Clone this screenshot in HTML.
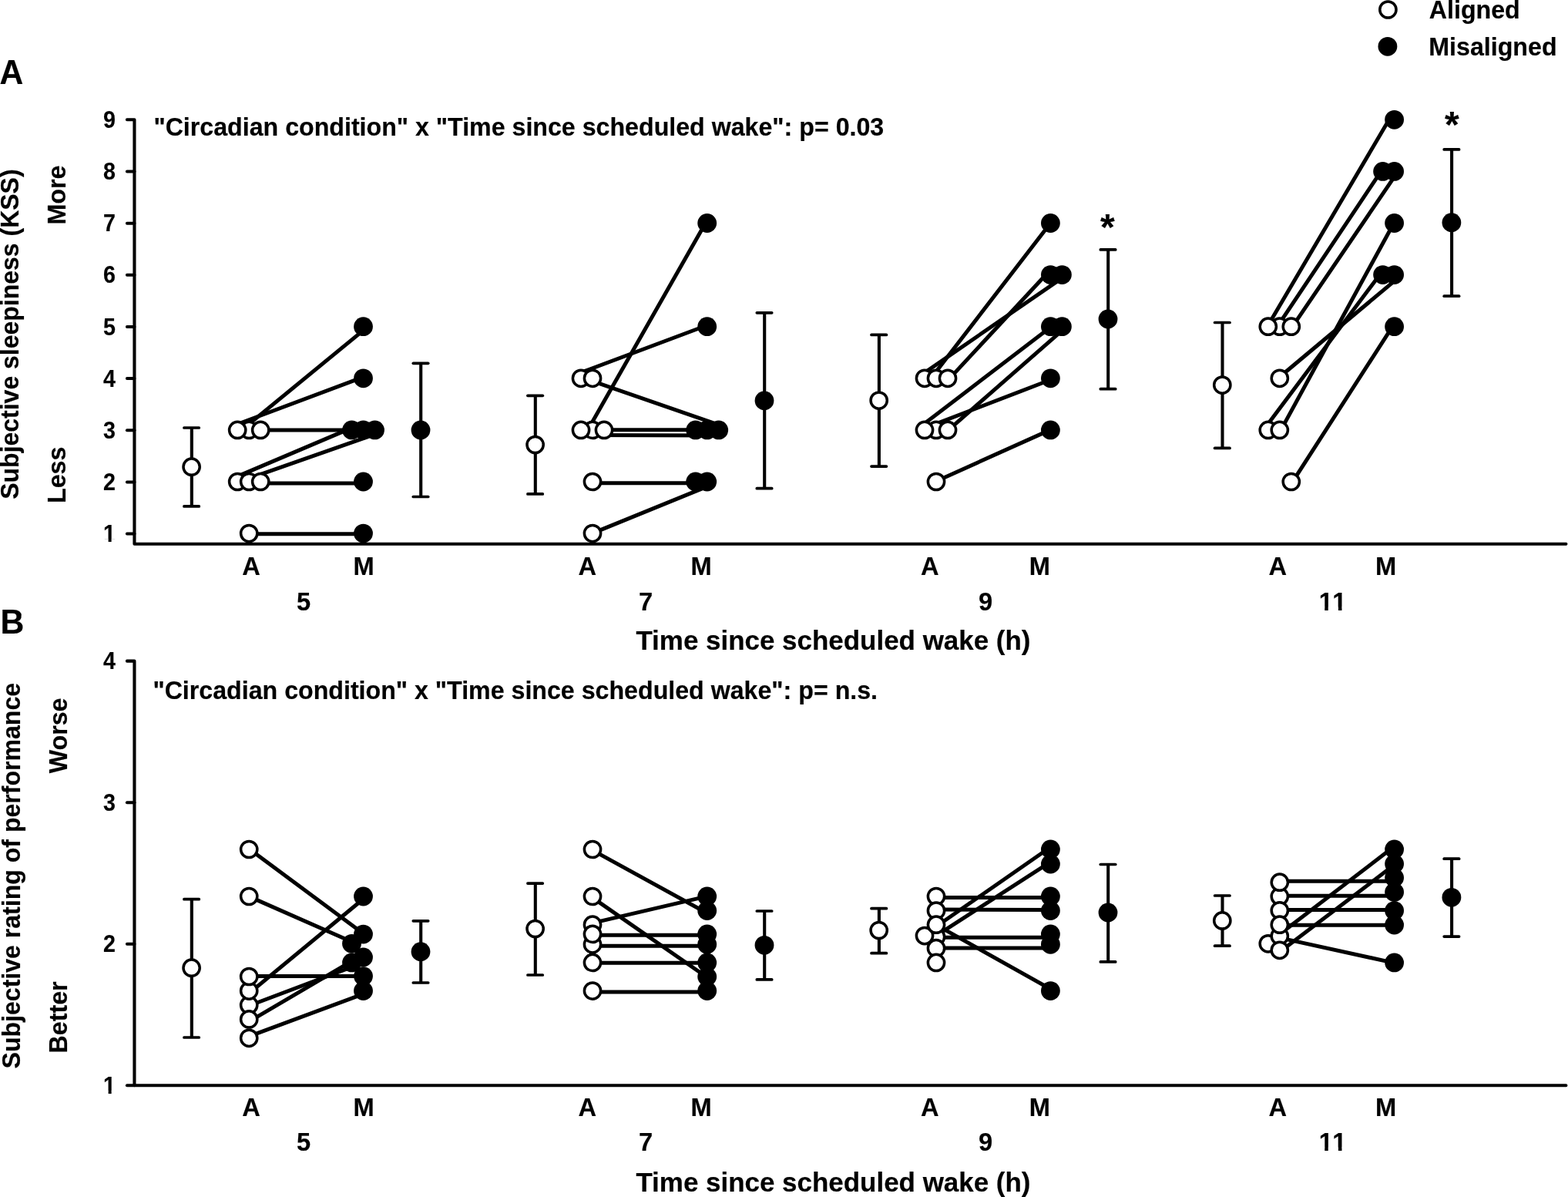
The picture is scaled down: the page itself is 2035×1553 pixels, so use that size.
<!DOCTYPE html>
<html lang="en">
<head>
<meta charset="utf-8">
<title>Subjective sleepiness and performance</title>
<style>html,body{margin:0;padding:0;background:#fff}svg{display:block}text{white-space:pre;stroke:#000;stroke-width:0.2px;stroke-linejoin:round}</style>
</head>
<body>
<svg width="2035" height="1553" viewBox="0 0 2035 1553" font-family="'Liberation Sans', sans-serif" font-weight="bold" fill="#000">
<rect width="2035" height="1553" fill="#fff"/>
<defs><clipPath id="k0"><path d="M-2,-36.96 H61.60 V-3.85 H-2 Z M7.16,-4.31 H11.44 V3.08 H7.16 Z"/></clipPath><clipPath id="k1"><path d="M-2,-39.96 H66.60 V-4.16 H-2 Z M7.74,-4.66 H12.37 V3.33 H7.74 Z M25.80,-4.66 H30.43 V3.33 H25.80 Z"/></clipPath></defs>
<g>
<line x1="310.44" y1="560.63" x2="473.94" y2="426.67" stroke="#000" stroke-width="5.0" stroke-linecap="round"/>
<line x1="305.71" y1="551.25" x2="470.98" y2="489.41" stroke="#000" stroke-width="5.0" stroke-linecap="round"/>
<line x1="308.20" y1="557.90" x2="486.50" y2="557.90" stroke="#000" stroke-width="5.0" stroke-linecap="round"/>
<line x1="305.71" y1="619.14" x2="468.20" y2="550.12" stroke="#000" stroke-width="5.0" stroke-linecap="round"/>
<line x1="308.48" y1="625.80" x2="488.22" y2="562.80" stroke="#000" stroke-width="5.0" stroke-linecap="round"/>
<line x1="308.20" y1="626.90" x2="471.50" y2="626.90" stroke="#000" stroke-width="5.0" stroke-linecap="round"/>
<line x1="323.20" y1="692.80" x2="471.50" y2="692.80" stroke="#000" stroke-width="5.0" stroke-linecap="round"/>
<line x1="760.62" y1="561.67" x2="916.14" y2="288.61" stroke="#000" stroke-width="5.0" stroke-linecap="round"/>
<line x1="751.54" y1="484.21" x2="917.15" y2="422.24" stroke="#000" stroke-width="5.0" stroke-linecap="round"/>
<line x1="754.46" y1="489.47" x2="934.78" y2="551.90" stroke="#000" stroke-width="5.0" stroke-linecap="round"/>
<line x1="754.00" y1="557.80" x2="932.70" y2="557.80" stroke="#000" stroke-width="5.0" stroke-linecap="round"/>
<line x1="753.99" y1="564.51" x2="932.68" y2="564.89" stroke="#000" stroke-width="5.0" stroke-linecap="round"/>
<line x1="769.00" y1="626.80" x2="917.70" y2="626.80" stroke="#000" stroke-width="5.0" stroke-linecap="round"/>
<line x1="768.90" y1="691.85" x2="919.87" y2="630.33" stroke="#000" stroke-width="5.0" stroke-linecap="round"/>
<line x1="1205.20" y1="494.80" x2="1363.31" y2="289.43" stroke="#000" stroke-width="5.0" stroke-linecap="round"/>
<line x1="1196.59" y1="485.84" x2="1380.32" y2="359.40" stroke="#000" stroke-width="5.0" stroke-linecap="round"/>
<line x1="1231.39" y1="492.09" x2="1360.11" y2="353.55" stroke="#000" stroke-width="5.0" stroke-linecap="round"/>
<line x1="1195.93" y1="552.58" x2="1373.28" y2="417.00" stroke="#000" stroke-width="5.0" stroke-linecap="round"/>
<line x1="1230.39" y1="558.34" x2="1380.92" y2="426.58" stroke="#000" stroke-width="5.0" stroke-linecap="round"/>
<line x1="1199.20" y1="555.81" x2="1364.06" y2="492.53" stroke="#000" stroke-width="5.0" stroke-linecap="round"/>
<line x1="1214.73" y1="624.41" x2="1363.28" y2="557.64" stroke="#000" stroke-width="5.0" stroke-linecap="round"/>
<line x1="1645.05" y1="423.26" x2="1804.53" y2="152.32" stroke="#000" stroke-width="5.0" stroke-linecap="round"/>
<line x1="1658.66" y1="422.27" x2="1793.01" y2="221.34" stroke="#000" stroke-width="5.0" stroke-linecap="round"/>
<line x1="1676.92" y1="424.46" x2="1812.87" y2="224.62" stroke="#000" stroke-width="5.0" stroke-linecap="round"/>
<line x1="1659.96" y1="489.79" x2="1813.54" y2="361.31" stroke="#000" stroke-width="5.0" stroke-linecap="round"/>
<line x1="1641.96" y1="555.02" x2="1792.00" y2="354.65" stroke="#000" stroke-width="5.0" stroke-linecap="round"/>
<line x1="1662.04" y1="558.58" x2="1809.12" y2="289.24" stroke="#000" stroke-width="5.0" stroke-linecap="round"/>
<line x1="1677.03" y1="625.79" x2="1807.89" y2="422.60" stroke="#000" stroke-width="5.0" stroke-linecap="round"/>
</g>
<line x1="248.80" y1="555.00" x2="248.80" y2="656.90" stroke="#000" stroke-width="4.1" stroke-linecap="butt"/>
<line x1="238.90" y1="555.00" x2="258.30" y2="555.00" stroke="#000" stroke-width="3.7" stroke-linecap="round"/>
<line x1="238.90" y1="656.90" x2="258.30" y2="656.90" stroke="#000" stroke-width="3.7" stroke-linecap="round"/>
<circle cx="248.60" cy="605.70" r="10.62" fill="#fff" stroke="#000" stroke-width="3.5"/>
<line x1="546.20" y1="471.30" x2="546.20" y2="644.50" stroke="#000" stroke-width="4.1" stroke-linecap="butt"/>
<line x1="536.30" y1="471.30" x2="555.70" y2="471.30" stroke="#000" stroke-width="3.7" stroke-linecap="round"/>
<line x1="536.30" y1="644.50" x2="555.70" y2="644.50" stroke="#000" stroke-width="3.7" stroke-linecap="round"/>
<circle cx="546.00" cy="558.00" r="12.4" fill="#000"/>
<line x1="694.80" y1="513.30" x2="694.80" y2="640.90" stroke="#000" stroke-width="4.1" stroke-linecap="butt"/>
<line x1="684.90" y1="513.30" x2="704.30" y2="513.30" stroke="#000" stroke-width="3.7" stroke-linecap="round"/>
<line x1="684.90" y1="640.90" x2="704.30" y2="640.90" stroke="#000" stroke-width="3.7" stroke-linecap="round"/>
<circle cx="694.60" cy="577.00" r="10.62" fill="#fff" stroke="#000" stroke-width="3.5"/>
<line x1="992.20" y1="405.80" x2="992.20" y2="633.70" stroke="#000" stroke-width="4.1" stroke-linecap="butt"/>
<line x1="982.30" y1="405.80" x2="1001.70" y2="405.80" stroke="#000" stroke-width="3.7" stroke-linecap="round"/>
<line x1="982.30" y1="633.70" x2="1001.70" y2="633.70" stroke="#000" stroke-width="3.7" stroke-linecap="round"/>
<circle cx="992.00" cy="519.70" r="12.4" fill="#000"/>
<line x1="1140.90" y1="434.40" x2="1140.90" y2="605.10" stroke="#000" stroke-width="4.1" stroke-linecap="butt"/>
<line x1="1131.00" y1="434.40" x2="1150.40" y2="434.40" stroke="#000" stroke-width="3.7" stroke-linecap="round"/>
<line x1="1131.00" y1="605.10" x2="1150.40" y2="605.10" stroke="#000" stroke-width="3.7" stroke-linecap="round"/>
<circle cx="1140.70" cy="519.60" r="10.62" fill="#fff" stroke="#000" stroke-width="3.5"/>
<line x1="1438.20" y1="323.90" x2="1438.20" y2="504.70" stroke="#000" stroke-width="4.1" stroke-linecap="butt"/>
<line x1="1428.30" y1="323.90" x2="1447.70" y2="323.90" stroke="#000" stroke-width="3.7" stroke-linecap="round"/>
<line x1="1428.30" y1="504.70" x2="1447.70" y2="504.70" stroke="#000" stroke-width="3.7" stroke-linecap="round"/>
<circle cx="1438.00" cy="414.00" r="12.4" fill="#000"/>
<line x1="1586.50" y1="418.50" x2="1586.50" y2="581.40" stroke="#000" stroke-width="4.1" stroke-linecap="butt"/>
<line x1="1576.60" y1="418.50" x2="1596.00" y2="418.50" stroke="#000" stroke-width="3.7" stroke-linecap="round"/>
<line x1="1576.60" y1="581.40" x2="1596.00" y2="581.40" stroke="#000" stroke-width="3.7" stroke-linecap="round"/>
<circle cx="1586.30" cy="499.60" r="10.62" fill="#fff" stroke="#000" stroke-width="3.5"/>
<line x1="1884.10" y1="193.90" x2="1884.10" y2="384.20" stroke="#000" stroke-width="4.1" stroke-linecap="butt"/>
<line x1="1874.20" y1="193.90" x2="1893.60" y2="193.90" stroke="#000" stroke-width="3.7" stroke-linecap="round"/>
<line x1="1874.20" y1="384.20" x2="1893.60" y2="384.20" stroke="#000" stroke-width="3.7" stroke-linecap="round"/>
<circle cx="1883.90" cy="288.70" r="12.4" fill="#000"/>
<circle cx="323.20" cy="557.90" r="10.62" fill="#fff" stroke="#000" stroke-width="3.5"/>
<circle cx="308.20" cy="557.90" r="10.62" fill="#fff" stroke="#000" stroke-width="3.5"/>
<circle cx="338.20" cy="557.90" r="10.62" fill="#fff" stroke="#000" stroke-width="3.5"/>
<circle cx="308.20" cy="625.00" r="10.62" fill="#fff" stroke="#000" stroke-width="3.5"/>
<circle cx="323.20" cy="625.00" r="10.62" fill="#fff" stroke="#000" stroke-width="3.5"/>
<circle cx="338.20" cy="625.00" r="10.62" fill="#fff" stroke="#000" stroke-width="3.5"/>
<circle cx="323.20" cy="692.10" r="10.62" fill="#fff" stroke="#000" stroke-width="3.5"/>
<circle cx="754.00" cy="490.80" r="10.62" fill="#fff" stroke="#000" stroke-width="3.5"/>
<circle cx="769.00" cy="490.80" r="10.62" fill="#fff" stroke="#000" stroke-width="3.5"/>
<circle cx="769.00" cy="557.90" r="10.62" fill="#fff" stroke="#000" stroke-width="3.5"/>
<circle cx="754.00" cy="557.90" r="10.62" fill="#fff" stroke="#000" stroke-width="3.5"/>
<circle cx="784.00" cy="557.90" r="10.62" fill="#fff" stroke="#000" stroke-width="3.5"/>
<circle cx="769.00" cy="625.00" r="10.62" fill="#fff" stroke="#000" stroke-width="3.5"/>
<circle cx="769.00" cy="692.10" r="10.62" fill="#fff" stroke="#000" stroke-width="3.5"/>
<circle cx="1200.00" cy="490.80" r="10.62" fill="#fff" stroke="#000" stroke-width="3.5"/>
<circle cx="1215.00" cy="490.80" r="10.62" fill="#fff" stroke="#000" stroke-width="3.5"/>
<circle cx="1230.00" cy="490.80" r="10.62" fill="#fff" stroke="#000" stroke-width="3.5"/>
<circle cx="1215.00" cy="557.90" r="10.62" fill="#fff" stroke="#000" stroke-width="3.5"/>
<circle cx="1200.00" cy="557.90" r="10.62" fill="#fff" stroke="#000" stroke-width="3.5"/>
<circle cx="1230.00" cy="557.90" r="10.62" fill="#fff" stroke="#000" stroke-width="3.5"/>
<circle cx="1215.00" cy="625.00" r="10.62" fill="#fff" stroke="#000" stroke-width="3.5"/>
<circle cx="1660.80" cy="423.70" r="10.62" fill="#fff" stroke="#000" stroke-width="3.5"/>
<circle cx="1645.80" cy="423.70" r="10.62" fill="#fff" stroke="#000" stroke-width="3.5"/>
<circle cx="1675.80" cy="423.70" r="10.62" fill="#fff" stroke="#000" stroke-width="3.5"/>
<circle cx="1660.80" cy="490.80" r="10.62" fill="#fff" stroke="#000" stroke-width="3.5"/>
<circle cx="1645.80" cy="557.90" r="10.62" fill="#fff" stroke="#000" stroke-width="3.5"/>
<circle cx="1660.80" cy="557.90" r="10.62" fill="#fff" stroke="#000" stroke-width="3.5"/>
<circle cx="1675.80" cy="625.00" r="10.62" fill="#fff" stroke="#000" stroke-width="3.5"/>
<circle cx="471.50" cy="423.70" r="12.4" fill="#000"/>
<circle cx="471.50" cy="490.80" r="12.4" fill="#000"/>
<circle cx="456.50" cy="557.90" r="12.4" fill="#000"/>
<circle cx="471.50" cy="557.90" r="12.4" fill="#000"/>
<circle cx="486.50" cy="557.90" r="12.4" fill="#000"/>
<circle cx="471.50" cy="625.00" r="12.4" fill="#000"/>
<circle cx="471.50" cy="692.10" r="12.4" fill="#000"/>
<circle cx="917.70" cy="289.50" r="12.4" fill="#000"/>
<circle cx="917.70" cy="423.70" r="12.4" fill="#000"/>
<circle cx="902.70" cy="557.90" r="12.4" fill="#000"/>
<circle cx="917.70" cy="557.90" r="12.4" fill="#000"/>
<circle cx="932.70" cy="557.90" r="12.4" fill="#000"/>
<circle cx="902.70" cy="625.00" r="12.4" fill="#000"/>
<circle cx="917.70" cy="625.00" r="12.4" fill="#000"/>
<circle cx="1363.40" cy="289.50" r="12.4" fill="#000"/>
<circle cx="1363.40" cy="356.60" r="12.4" fill="#000"/>
<circle cx="1378.40" cy="356.60" r="12.4" fill="#000"/>
<circle cx="1363.40" cy="423.70" r="12.4" fill="#000"/>
<circle cx="1378.40" cy="423.70" r="12.4" fill="#000"/>
<circle cx="1363.40" cy="490.80" r="12.4" fill="#000"/>
<circle cx="1363.40" cy="557.90" r="12.4" fill="#000"/>
<circle cx="1809.60" cy="155.30" r="12.4" fill="#000"/>
<circle cx="1794.60" cy="222.40" r="12.4" fill="#000"/>
<circle cx="1809.60" cy="222.40" r="12.4" fill="#000"/>
<circle cx="1809.60" cy="289.50" r="12.4" fill="#000"/>
<circle cx="1794.60" cy="356.60" r="12.4" fill="#000"/>
<circle cx="1809.60" cy="356.60" r="12.4" fill="#000"/>
<circle cx="1809.60" cy="423.70" r="12.4" fill="#000"/>
<path d="M164.9,155.32 H174.45 V705.70 H2032.4" fill="none" stroke="#000" stroke-width="4.1" stroke-linecap="round" stroke-linejoin="round"/>
<line x1="164.9" y1="692.60" x2="174.45" y2="692.60" stroke="#000" stroke-width="4.0" stroke-linecap="round"/>
<text transform="translate(133.97 703.20) scale(0.9300 1)" font-size="30.80" clip-path="url(#k0)">1</text>
<line x1="164.9" y1="625.44" x2="174.45" y2="625.44" stroke="#000" stroke-width="4.0" stroke-linecap="round"/>
<text transform="translate(149.90 636.04) scale(0.9300 1)" font-size="30.80" text-anchor="end">2</text>
<line x1="164.9" y1="558.28" x2="174.45" y2="558.28" stroke="#000" stroke-width="4.0" stroke-linecap="round"/>
<text transform="translate(149.90 568.88) scale(0.9300 1)" font-size="30.80" text-anchor="end">3</text>
<line x1="164.9" y1="491.12" x2="174.45" y2="491.12" stroke="#000" stroke-width="4.0" stroke-linecap="round"/>
<text transform="translate(149.90 501.72) scale(0.9300 1)" font-size="30.80" text-anchor="end">4</text>
<line x1="164.9" y1="423.96" x2="174.45" y2="423.96" stroke="#000" stroke-width="4.0" stroke-linecap="round"/>
<text transform="translate(149.90 434.56) scale(0.9300 1)" font-size="30.80" text-anchor="end">5</text>
<line x1="164.9" y1="356.80" x2="174.45" y2="356.80" stroke="#000" stroke-width="4.0" stroke-linecap="round"/>
<text transform="translate(149.90 367.40) scale(0.9300 1)" font-size="30.80" text-anchor="end">6</text>
<line x1="164.9" y1="289.64" x2="174.45" y2="289.64" stroke="#000" stroke-width="4.0" stroke-linecap="round"/>
<text transform="translate(149.90 300.24) scale(0.9300 1)" font-size="30.80" text-anchor="end">7</text>
<line x1="164.9" y1="222.48" x2="174.45" y2="222.48" stroke="#000" stroke-width="4.0" stroke-linecap="round"/>
<text transform="translate(149.90 233.08) scale(0.9300 1)" font-size="30.80" text-anchor="end">8</text>
<text transform="translate(149.90 165.92) scale(0.9300 1)" font-size="30.80" text-anchor="end">9</text>
<g>
<line x1="323.55" y1="1101.53" x2="471.88" y2="1211.59" stroke="#000" stroke-width="5.0" stroke-linecap="round"/>
<line x1="323.14" y1="1163.15" x2="457.42" y2="1222.20" stroke="#000" stroke-width="5.0" stroke-linecap="round"/>
<line x1="324.75" y1="1287.48" x2="473.12" y2="1164.96" stroke="#000" stroke-width="5.0" stroke-linecap="round"/>
<line x1="323.20" y1="1266.40" x2="471.50" y2="1266.40" stroke="#000" stroke-width="5.0" stroke-linecap="round"/>
<line x1="323.53" y1="1304.77" x2="473.79" y2="1248.06" stroke="#000" stroke-width="5.0" stroke-linecap="round"/>
<line x1="324.53" y1="1324.67" x2="469.85" y2="1239.20" stroke="#000" stroke-width="5.0" stroke-linecap="round"/>
<line x1="322.49" y1="1344.88" x2="472.80" y2="1289.11" stroke="#000" stroke-width="5.0" stroke-linecap="round"/>
<line x1="768.52" y1="1102.88" x2="916.40" y2="1183.98" stroke="#000" stroke-width="5.0" stroke-linecap="round"/>
<line x1="768.23" y1="1164.11" x2="917.35" y2="1267.70" stroke="#000" stroke-width="5.0" stroke-linecap="round"/>
<line x1="768.52" y1="1197.65" x2="917.66" y2="1162.85" stroke="#000" stroke-width="5.0" stroke-linecap="round"/>
<line x1="769.00" y1="1213.30" x2="917.70" y2="1213.30" stroke="#000" stroke-width="5.0" stroke-linecap="round"/>
<line x1="769.00" y1="1227.20" x2="917.70" y2="1227.20" stroke="#000" stroke-width="5.0" stroke-linecap="round"/>
<line x1="769.00" y1="1249.20" x2="917.70" y2="1249.20" stroke="#000" stroke-width="5.0" stroke-linecap="round"/>
<line x1="769.00" y1="1287.00" x2="917.70" y2="1287.00" stroke="#000" stroke-width="5.0" stroke-linecap="round"/>
<line x1="1215.00" y1="1164.40" x2="1363.40" y2="1164.40" stroke="#000" stroke-width="5.0" stroke-linecap="round"/>
<line x1="1215.01" y1="1179.98" x2="1363.40" y2="1180.62" stroke="#000" stroke-width="5.0" stroke-linecap="round"/>
<line x1="1199.28" y1="1213.07" x2="1362.03" y2="1100.02" stroke="#000" stroke-width="5.0" stroke-linecap="round"/>
<line x1="1204.35" y1="1220.84" x2="1362.09" y2="1119.07" stroke="#000" stroke-width="5.0" stroke-linecap="round"/>
<line x1="1200.00" y1="1216.20" x2="1363.40" y2="1216.20" stroke="#000" stroke-width="5.0" stroke-linecap="round"/>
<line x1="1215.00" y1="1230.10" x2="1363.40" y2="1230.10" stroke="#000" stroke-width="5.0" stroke-linecap="round"/>
<line x1="1214.87" y1="1199.94" x2="1364.44" y2="1283.74" stroke="#000" stroke-width="5.0" stroke-linecap="round"/>
<line x1="1660.80" y1="1143.20" x2="1809.60" y2="1143.20" stroke="#000" stroke-width="5.0" stroke-linecap="round"/>
<line x1="1660.80" y1="1162.20" x2="1809.60" y2="1162.20" stroke="#000" stroke-width="5.0" stroke-linecap="round"/>
<line x1="1660.80" y1="1180.40" x2="1809.60" y2="1180.40" stroke="#000" stroke-width="5.0" stroke-linecap="round"/>
<line x1="1660.80" y1="1200.20" x2="1809.60" y2="1200.20" stroke="#000" stroke-width="5.0" stroke-linecap="round"/>
<line x1="1645.45" y1="1223.84" x2="1807.75" y2="1099.59" stroke="#000" stroke-width="5.0" stroke-linecap="round"/>
<line x1="1661.86" y1="1234.20" x2="1810.25" y2="1121.56" stroke="#000" stroke-width="5.0" stroke-linecap="round"/>
<line x1="1660.34" y1="1216.61" x2="1809.50" y2="1249.33" stroke="#000" stroke-width="5.0" stroke-linecap="round"/>
</g>
<line x1="248.80" y1="1166.70" x2="248.80" y2="1346.00" stroke="#000" stroke-width="4.1" stroke-linecap="butt"/>
<line x1="238.90" y1="1166.70" x2="258.30" y2="1166.70" stroke="#000" stroke-width="3.7" stroke-linecap="round"/>
<line x1="238.90" y1="1346.00" x2="258.30" y2="1346.00" stroke="#000" stroke-width="3.7" stroke-linecap="round"/>
<circle cx="248.60" cy="1255.70" r="10.62" fill="#fff" stroke="#000" stroke-width="3.5"/>
<line x1="546.20" y1="1194.80" x2="546.20" y2="1275.00" stroke="#000" stroke-width="4.1" stroke-linecap="butt"/>
<line x1="536.30" y1="1194.80" x2="555.70" y2="1194.80" stroke="#000" stroke-width="3.7" stroke-linecap="round"/>
<line x1="536.30" y1="1275.00" x2="555.70" y2="1275.00" stroke="#000" stroke-width="3.7" stroke-linecap="round"/>
<circle cx="546.00" cy="1234.70" r="12.4" fill="#000"/>
<line x1="694.80" y1="1146.10" x2="694.80" y2="1265.00" stroke="#000" stroke-width="4.1" stroke-linecap="butt"/>
<line x1="684.90" y1="1146.10" x2="704.30" y2="1146.10" stroke="#000" stroke-width="3.7" stroke-linecap="round"/>
<line x1="684.90" y1="1265.00" x2="704.30" y2="1265.00" stroke="#000" stroke-width="3.7" stroke-linecap="round"/>
<circle cx="694.60" cy="1205.00" r="10.62" fill="#fff" stroke="#000" stroke-width="3.5"/>
<line x1="992.20" y1="1182.00" x2="992.20" y2="1270.90" stroke="#000" stroke-width="4.1" stroke-linecap="butt"/>
<line x1="982.30" y1="1182.00" x2="1001.70" y2="1182.00" stroke="#000" stroke-width="3.7" stroke-linecap="round"/>
<line x1="982.30" y1="1270.90" x2="1001.70" y2="1270.90" stroke="#000" stroke-width="3.7" stroke-linecap="round"/>
<circle cx="992.00" cy="1226.30" r="12.4" fill="#000"/>
<line x1="1140.90" y1="1178.70" x2="1140.90" y2="1236.70" stroke="#000" stroke-width="4.1" stroke-linecap="butt"/>
<line x1="1131.00" y1="1178.70" x2="1150.40" y2="1178.70" stroke="#000" stroke-width="3.7" stroke-linecap="round"/>
<line x1="1131.00" y1="1236.70" x2="1150.40" y2="1236.70" stroke="#000" stroke-width="3.7" stroke-linecap="round"/>
<circle cx="1140.70" cy="1207.00" r="10.62" fill="#fff" stroke="#000" stroke-width="3.5"/>
<line x1="1438.20" y1="1121.50" x2="1438.20" y2="1247.90" stroke="#000" stroke-width="4.1" stroke-linecap="butt"/>
<line x1="1428.30" y1="1121.50" x2="1447.70" y2="1121.50" stroke="#000" stroke-width="3.7" stroke-linecap="round"/>
<line x1="1428.30" y1="1247.90" x2="1447.70" y2="1247.90" stroke="#000" stroke-width="3.7" stroke-linecap="round"/>
<circle cx="1438.00" cy="1184.00" r="12.4" fill="#000"/>
<line x1="1586.50" y1="1162.00" x2="1586.50" y2="1227.20" stroke="#000" stroke-width="4.1" stroke-linecap="butt"/>
<line x1="1576.60" y1="1162.00" x2="1596.00" y2="1162.00" stroke="#000" stroke-width="3.7" stroke-linecap="round"/>
<line x1="1576.60" y1="1227.20" x2="1596.00" y2="1227.20" stroke="#000" stroke-width="3.7" stroke-linecap="round"/>
<circle cx="1586.30" cy="1194.40" r="10.62" fill="#fff" stroke="#000" stroke-width="3.5"/>
<line x1="1884.10" y1="1114.20" x2="1884.10" y2="1215.10" stroke="#000" stroke-width="4.1" stroke-linecap="butt"/>
<line x1="1874.20" y1="1114.20" x2="1893.60" y2="1114.20" stroke="#000" stroke-width="3.7" stroke-linecap="round"/>
<line x1="1874.20" y1="1215.10" x2="1893.60" y2="1215.10" stroke="#000" stroke-width="3.7" stroke-linecap="round"/>
<circle cx="1883.90" cy="1164.30" r="12.4" fill="#000"/>
<circle cx="323.20" cy="1102.00" r="10.62" fill="#fff" stroke="#000" stroke-width="3.5"/>
<circle cx="323.20" cy="1163.00" r="10.62" fill="#fff" stroke="#000" stroke-width="3.5"/>
<circle cx="323.20" cy="1303.90" r="10.62" fill="#fff" stroke="#000" stroke-width="3.5"/>
<circle cx="323.20" cy="1285.60" r="10.62" fill="#fff" stroke="#000" stroke-width="3.5"/>
<circle cx="323.20" cy="1267.00" r="10.62" fill="#fff" stroke="#000" stroke-width="3.5"/>
<circle cx="323.20" cy="1322.40" r="10.62" fill="#fff" stroke="#000" stroke-width="3.5"/>
<circle cx="323.20" cy="1346.80" r="10.62" fill="#fff" stroke="#000" stroke-width="3.5"/>
<circle cx="769.00" cy="1102.00" r="10.62" fill="#fff" stroke="#000" stroke-width="3.5"/>
<circle cx="769.00" cy="1163.00" r="10.62" fill="#fff" stroke="#000" stroke-width="3.5"/>
<circle cx="769.00" cy="1199.70" r="10.62" fill="#fff" stroke="#000" stroke-width="3.5"/>
<circle cx="769.00" cy="1225.30" r="10.62" fill="#fff" stroke="#000" stroke-width="3.5"/>
<circle cx="769.00" cy="1211.90" r="10.62" fill="#fff" stroke="#000" stroke-width="3.5"/>
<circle cx="769.00" cy="1248.90" r="10.62" fill="#fff" stroke="#000" stroke-width="3.5"/>
<circle cx="769.00" cy="1285.60" r="10.62" fill="#fff" stroke="#000" stroke-width="3.5"/>
<circle cx="1215.00" cy="1163.00" r="10.62" fill="#fff" stroke="#000" stroke-width="3.5"/>
<circle cx="1215.00" cy="1181.60" r="10.62" fill="#fff" stroke="#000" stroke-width="3.5"/>
<circle cx="1215.00" cy="1215.50" r="10.62" fill="#fff" stroke="#000" stroke-width="3.5"/>
<circle cx="1200.00" cy="1214.10" r="10.62" fill="#fff" stroke="#000" stroke-width="3.5"/>
<circle cx="1215.00" cy="1199.70" r="10.62" fill="#fff" stroke="#000" stroke-width="3.5"/>
<circle cx="1215.00" cy="1230.20" r="10.62" fill="#fff" stroke="#000" stroke-width="3.5"/>
<circle cx="1215.00" cy="1248.90" r="10.62" fill="#fff" stroke="#000" stroke-width="3.5"/>
<circle cx="1660.80" cy="1163.00" r="10.62" fill="#fff" stroke="#000" stroke-width="3.5"/>
<circle cx="1660.80" cy="1144.70" r="10.62" fill="#fff" stroke="#000" stroke-width="3.5"/>
<circle cx="1660.80" cy="1181.30" r="10.62" fill="#fff" stroke="#000" stroke-width="3.5"/>
<circle cx="1645.80" cy="1224.30" r="10.62" fill="#fff" stroke="#000" stroke-width="3.5"/>
<circle cx="1660.80" cy="1214.50" r="10.62" fill="#fff" stroke="#000" stroke-width="3.5"/>
<circle cx="1660.80" cy="1199.70" r="10.62" fill="#fff" stroke="#000" stroke-width="3.5"/>
<circle cx="1660.80" cy="1232.80" r="10.62" fill="#fff" stroke="#000" stroke-width="3.5"/>
<circle cx="471.50" cy="1163.00" r="12.4" fill="#000"/>
<circle cx="471.50" cy="1212.10" r="12.4" fill="#000"/>
<circle cx="456.50" cy="1224.30" r="12.4" fill="#000"/>
<circle cx="471.50" cy="1242.00" r="12.4" fill="#000"/>
<circle cx="456.50" cy="1248.90" r="12.4" fill="#000"/>
<circle cx="471.50" cy="1266.60" r="12.4" fill="#000"/>
<circle cx="471.50" cy="1285.60" r="12.4" fill="#000"/>
<circle cx="917.70" cy="1163.00" r="12.4" fill="#000"/>
<circle cx="917.70" cy="1181.60" r="12.4" fill="#000"/>
<circle cx="917.70" cy="1211.90" r="12.4" fill="#000"/>
<circle cx="917.70" cy="1225.30" r="12.4" fill="#000"/>
<circle cx="917.70" cy="1248.90" r="12.4" fill="#000"/>
<circle cx="917.70" cy="1267.20" r="12.4" fill="#000"/>
<circle cx="917.70" cy="1285.60" r="12.4" fill="#000"/>
<circle cx="1363.40" cy="1102.00" r="12.4" fill="#000"/>
<circle cx="1363.40" cy="1121.10" r="12.4" fill="#000"/>
<circle cx="1363.40" cy="1163.00" r="12.4" fill="#000"/>
<circle cx="1363.40" cy="1181.60" r="12.4" fill="#000"/>
<circle cx="1363.40" cy="1211.90" r="12.4" fill="#000"/>
<circle cx="1363.40" cy="1225.30" r="12.4" fill="#000"/>
<circle cx="1363.40" cy="1285.60" r="12.4" fill="#000"/>
<circle cx="1809.60" cy="1102.00" r="12.4" fill="#000"/>
<circle cx="1809.60" cy="1120.70" r="12.4" fill="#000"/>
<circle cx="1809.60" cy="1138.80" r="12.4" fill="#000"/>
<circle cx="1809.60" cy="1157.50" r="12.4" fill="#000"/>
<circle cx="1809.60" cy="1181.60" r="12.4" fill="#000"/>
<circle cx="1809.60" cy="1200.10" r="12.4" fill="#000"/>
<circle cx="1809.60" cy="1248.90" r="12.4" fill="#000"/>
<path d="M164.9,857.65 H174.45 V1408.30 H2032.4" fill="none" stroke="#000" stroke-width="4.1" stroke-linecap="round" stroke-linejoin="round"/>
<line x1="164.9" y1="1408.30" x2="174.45" y2="1408.30" stroke="#000" stroke-width="4.0" stroke-linecap="round"/>
<text transform="translate(133.97 1418.90) scale(0.9300 1)" font-size="30.80" clip-path="url(#k0)">1</text>
<line x1="164.9" y1="1224.75" x2="174.45" y2="1224.75" stroke="#000" stroke-width="4.0" stroke-linecap="round"/>
<text transform="translate(149.90 1235.35) scale(0.9300 1)" font-size="30.80" text-anchor="end">2</text>
<line x1="164.9" y1="1041.20" x2="174.45" y2="1041.20" stroke="#000" stroke-width="4.0" stroke-linecap="round"/>
<text transform="translate(149.90 1051.80) scale(0.9300 1)" font-size="30.80" text-anchor="end">3</text>
<text transform="translate(149.90 868.25) scale(0.9300 1)" font-size="30.80" text-anchor="end">4</text>
<text transform="translate(-0.56 109.40) scale(0.9600 1)" font-size="44.40">A</text>
<text transform="translate(0.55 821.70) scale(0.9600 1)" font-size="44.40">B</text>
<text transform="translate(1854.80 23.80) scale(0.9804 1)" font-size="32.84">Aligned</text>
<text transform="translate(1854.30 72.10) scale(0.9804 1)" font-size="32.84">Misaligned</text>
<text transform="translate(199.40 176.20) scale(0.9795 1)" font-size="32.84">&quot;Circadian condition&quot; x &quot;Time since scheduled wake&quot;: p= 0.03</text>
<text transform="translate(198.40 906.50) scale(0.9795 1)" font-size="32.84">&quot;Circadian condition&quot; x &quot;Time since scheduled wake&quot;: p= n.s.</text>
<text transform="translate(825.40 843.40) scale(0.9804 1)" font-size="35.65">Time since scheduled wake (h)</text>
<text transform="translate(825.40 1546.30) scale(0.9804 1)" font-size="35.65">Time since scheduled wake (h)</text>
<text transform="translate(24.40 433.60) rotate(-90) scale(0.9745 1)" font-size="32.84" text-anchor="middle">Subjective sleepiness (KSS)</text>
<text transform="translate(25.80 1136.20) rotate(-90) scale(0.9765 1)" font-size="32.84" text-anchor="middle">Subjective rating of performance</text>
<text transform="translate(85.30 253.00) rotate(-90) scale(0.9804 1)" font-size="32.84" text-anchor="middle">More</text>
<text transform="translate(85.30 616.30) rotate(-90) scale(0.9804 1)" font-size="32.84" text-anchor="middle">Less</text>
<text transform="translate(87.30 954.40) rotate(-90) scale(0.9804 1)" font-size="32.84" text-anchor="middle">Worse</text>
<text transform="translate(87.30 1319.90) rotate(-90) scale(0.9804 1)" font-size="32.84" text-anchor="middle">Better</text>
<text transform="translate(1437.40 310.50)" font-size="48.00" text-anchor="middle">*</text>
<text transform="translate(1884.40 177.50)" font-size="48.00" text-anchor="middle">*</text>
<text transform="translate(326.00 746.00) scale(0.9800 1)" font-size="33.30" text-anchor="middle">A</text>
<text transform="translate(472.00 746.00) scale(0.9800 1)" font-size="33.30" text-anchor="middle">M</text>
<text transform="translate(394.10 791.70) scale(0.9800 1)" font-size="33.30" text-anchor="middle">5</text>
<text transform="translate(762.30 746.00) scale(0.9800 1)" font-size="33.30" text-anchor="middle">A</text>
<text transform="translate(910.00 746.00) scale(0.9800 1)" font-size="33.30" text-anchor="middle">M</text>
<text transform="translate(838.00 791.70) scale(0.9800 1)" font-size="33.30" text-anchor="middle">7</text>
<text transform="translate(1206.80 746.00) scale(0.9800 1)" font-size="33.30" text-anchor="middle">A</text>
<text transform="translate(1349.30 746.00) scale(0.9800 1)" font-size="33.30" text-anchor="middle">M</text>
<text transform="translate(1279.00 791.70) scale(0.9800 1)" font-size="33.30" text-anchor="middle">9</text>
<text transform="translate(1658.40 746.00) scale(0.9800 1)" font-size="33.30" text-anchor="middle">A</text>
<text transform="translate(1798.50 746.00) scale(0.9800 1)" font-size="33.30" text-anchor="middle">M</text>
<text transform="translate(1711.64 791.70) scale(0.9800 1)" font-size="33.30" clip-path="url(#k1)"><tspan x="0">1</tspan><tspan x="18.06">1</tspan></text>
<text transform="translate(326.00 1447.80) scale(0.9800 1)" font-size="33.30" text-anchor="middle">A</text>
<text transform="translate(472.00 1447.80) scale(0.9800 1)" font-size="33.30" text-anchor="middle">M</text>
<text transform="translate(394.10 1492.70) scale(0.9800 1)" font-size="33.30" text-anchor="middle">5</text>
<text transform="translate(762.30 1447.80) scale(0.9800 1)" font-size="33.30" text-anchor="middle">A</text>
<text transform="translate(910.00 1447.80) scale(0.9800 1)" font-size="33.30" text-anchor="middle">M</text>
<text transform="translate(838.00 1492.70) scale(0.9800 1)" font-size="33.30" text-anchor="middle">7</text>
<text transform="translate(1206.80 1447.80) scale(0.9800 1)" font-size="33.30" text-anchor="middle">A</text>
<text transform="translate(1349.30 1447.80) scale(0.9800 1)" font-size="33.30" text-anchor="middle">M</text>
<text transform="translate(1279.00 1492.70) scale(0.9800 1)" font-size="33.30" text-anchor="middle">9</text>
<text transform="translate(1658.40 1447.80) scale(0.9800 1)" font-size="33.30" text-anchor="middle">A</text>
<text transform="translate(1798.50 1447.80) scale(0.9800 1)" font-size="33.30" text-anchor="middle">M</text>
<text transform="translate(1711.64 1492.70) scale(0.9800 1)" font-size="33.30" clip-path="url(#k1)"><tspan x="0">1</tspan><tspan x="18.06">1</tspan></text>
<circle cx="1801.40" cy="12.50" r="10.62" fill="#fff" stroke="#000" stroke-width="3.5"/>
<circle cx="1800.90" cy="60.30" r="12.4" fill="#000"/>
</svg>
</body>
</html>
